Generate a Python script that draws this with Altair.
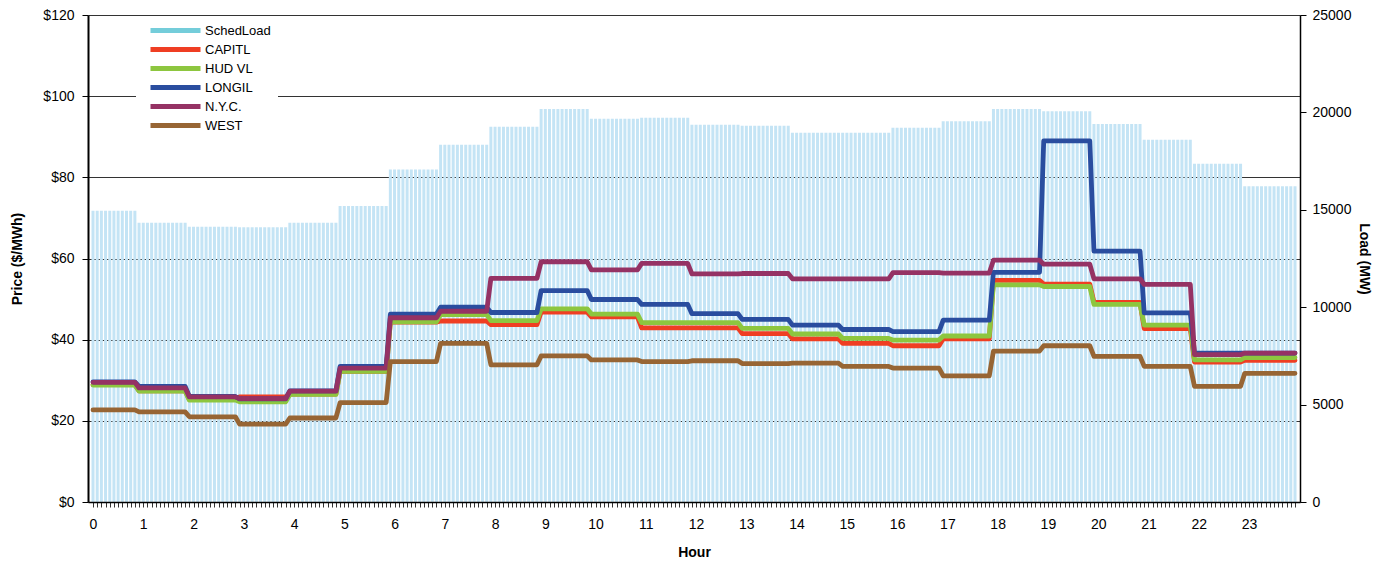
import altair as alt
import pandas as pd

hours = list(range(24))
sched_load = [14950, 14330, 14130, 14100, 14330, 15200, 17070, 18340, 19260, 20170, 19670, 19720,
              19360, 19310, 18950, 18950, 19210, 19540, 20170, 20060, 19410, 18590, 17360, 16210]
capitl = [28.9, 27.4, 25.3, 25.9, 26.6, 32.2, 44.3, 44.6, 43.7, 46.8, 45.6, 42.9,
          42.9, 41.5, 40.2, 39.1, 38.5, 40.2, 54.6, 53.7, 49.2, 42.7, 34.5, 34.9]
hud_vl = [28.8, 27.3, 25.1, 24.7, 26.5, 32.2, 44.4, 46.2, 44.7, 47.6, 46.3, 44.2,
          44.2, 42.8, 41.4, 40.3, 39.9, 40.9, 53.5, 53.1, 48.7, 43.6, 35.0, 35.6]
longil = [29.6, 28.5, 26.0, 25.4, 27.4, 33.4, 46.3, 48.0, 46.7, 52.1, 49.9, 48.7,
          46.4, 45.0, 43.6, 42.5, 42.0, 44.8, 56.6, 89.0, 61.8, 46.6, 36.7, 36.7]
nyc = [29.5, 28.1, 25.9, 25.5, 27.3, 33.0, 45.4, 47.0, 55.1, 59.2, 57.2, 58.8,
       56.2, 56.3, 55.0, 55.0, 56.5, 56.4, 59.6, 58.6, 55.0, 53.6, 36.3, 36.7]
west = [22.7, 22.2, 21.0, 19.2, 20.7, 24.5, 34.6, 39.1, 33.8, 36.0, 35.0, 34.6,
        34.8, 34.1, 34.2, 33.4, 33.0, 31.1, 37.2, 38.5, 35.9, 33.4, 28.5, 31.7]

series_names = ["CAPITL", "HUD VL", "LONGIL", "N.Y.C.", "WEST"]
series_values = [capitl, hud_vl, longil, nyc, west]
legend_names = ["SchedLoad"] + series_names
legend_colors = ["#74cdda", "#ef3e23", "#8dc63f", "#2a4d9f", "#953264", "#976534"]

intervals_per_hour = 12
n_intervals = 24 * intervals_per_hour  # 5-minute categories


def hour_of(k):
    return min(23, (k + 1) // intervals_per_hour)


load_df = pd.DataFrame({
    "k": list(range(n_intervals)),
    "load": [sched_load[hour_of(k)] for k in range(n_intervals)],
})

rows = []
for order, (name, vals) in enumerate(zip(series_names, series_values)):
    for k in range(n_intervals):
        rows.append({"k": k, "series": name, "price": vals[hour_of(k)], "order": order})
price_df = pd.DataFrame(rows)

font = "Liberation Sans"
nbsp_pad = "\u00a0" * 7

x_enc = alt.X(
    "k:Q",
    scale=alt.Scale(domain=[0, n_intervals - 1], nice=False, zero=False),
    axis=alt.Axis(
        title="Hour",
        values=list(range(n_intervals)),
        tickCount=n_intervals,
        labelExpr="datum.value % 12 == 0 ? '' + (datum.value / 12) : ''",
        labelOverlap=False,
        labelFlush=False,
        grid=False,
        tickSize=5,
        tickColor="#333333",
        tickWidth=1,
        domainColor="#000000",
        domainWidth=1.5,
        labelPadding=10,
        titlePadding=14,
        labelFontSize=14,
        titleFontSize=14,
        titleFontWeight="bold",
        labelColor="#000000",
        titleColor="#000000",
        zindex=1,
    ),
)

bars = alt.Chart(load_df).mark_bar(size=3, color="#c4e4f5", clip=True).encode(
    x=x_enc,
    y=alt.Y(
        "load:Q",
        scale=alt.Scale(domain=[0, 25000], nice=False),
        axis=alt.Axis(
            title="Load (MW)",
            orient="right",
            values=[0, 5000, 10000, 15000, 20000, 25000],
            format="d",
            grid=False,
            tickSize=6,
            tickColor="#000000",
            domainColor="#000000",
            domainWidth=1.5,
            labelPadding=6,
            titlePadding=6,
            labelFontSize=14,
            titleFontSize=14,
            titleFontWeight="bold",
            labelColor="#000000",
            titleColor="#000000",
            zindex=1,
        ),
    ),
)

lines = alt.Chart(price_df).mark_line(
    strokeWidth=4.8, strokeJoin="round", strokeCap="round", clip=True
).encode(
    x=alt.X("k:Q"),
    y=alt.Y(
        "price:Q",
        scale=alt.Scale(domain=[0, 120], nice=False),
        axis=alt.Axis(
            title="Price ($/MWh)",
            orient="left",
            values=[0, 20, 40, 60, 80, 100, 120],
            labelExpr="'$' + datum.value",
            grid=True,
            gridColor="#333333",
            gridWidth=1,
            tickSize=6,
            tickColor="#000000",
            domainColor="#000000",
            domainWidth=2,
            labelPadding=8,
            titlePadding=18,
            labelFontSize=14,
            titleFontSize=14,
            titleFontWeight="bold",
            labelColor="#000000",
            titleColor="#000000",
            zindex=0,
        ),
    ),
    color=alt.Color(
        "series:N",
        scale=alt.Scale(domain=legend_names, range=legend_colors),
        legend=alt.Legend(
            title=None,
            orient="none",
            legendX=48,
            legendY=1,
            fillColor="white",
            padding=7,
            symbolOffset=25,
            symbolType="M-5,0H5",
            symbolSize=100,
            symbolStrokeWidth=5,
            labelFontSize=13,
            labelColor="#000000",
            labelOffset=22,
            labelExpr="datum.label + '" + nbsp_pad + "'",
            rowPadding=-2,
        ),
    ),
    order=alt.Order("order:Q"),
    detail="series:N",
)

chart = alt.layer(bars, lines).resolve_scale(y="independent").properties(
    width=1212,
    height=487,
    autosize=alt.AutoSizeParams(type="none"),
    padding={"left": 80, "top": 7, "right": 82, "bottom": 58},
).configure_view(stroke=None).configure(font=font)

chart.save("out.html", embed_options={"renderer": "svg", "actions": False})
